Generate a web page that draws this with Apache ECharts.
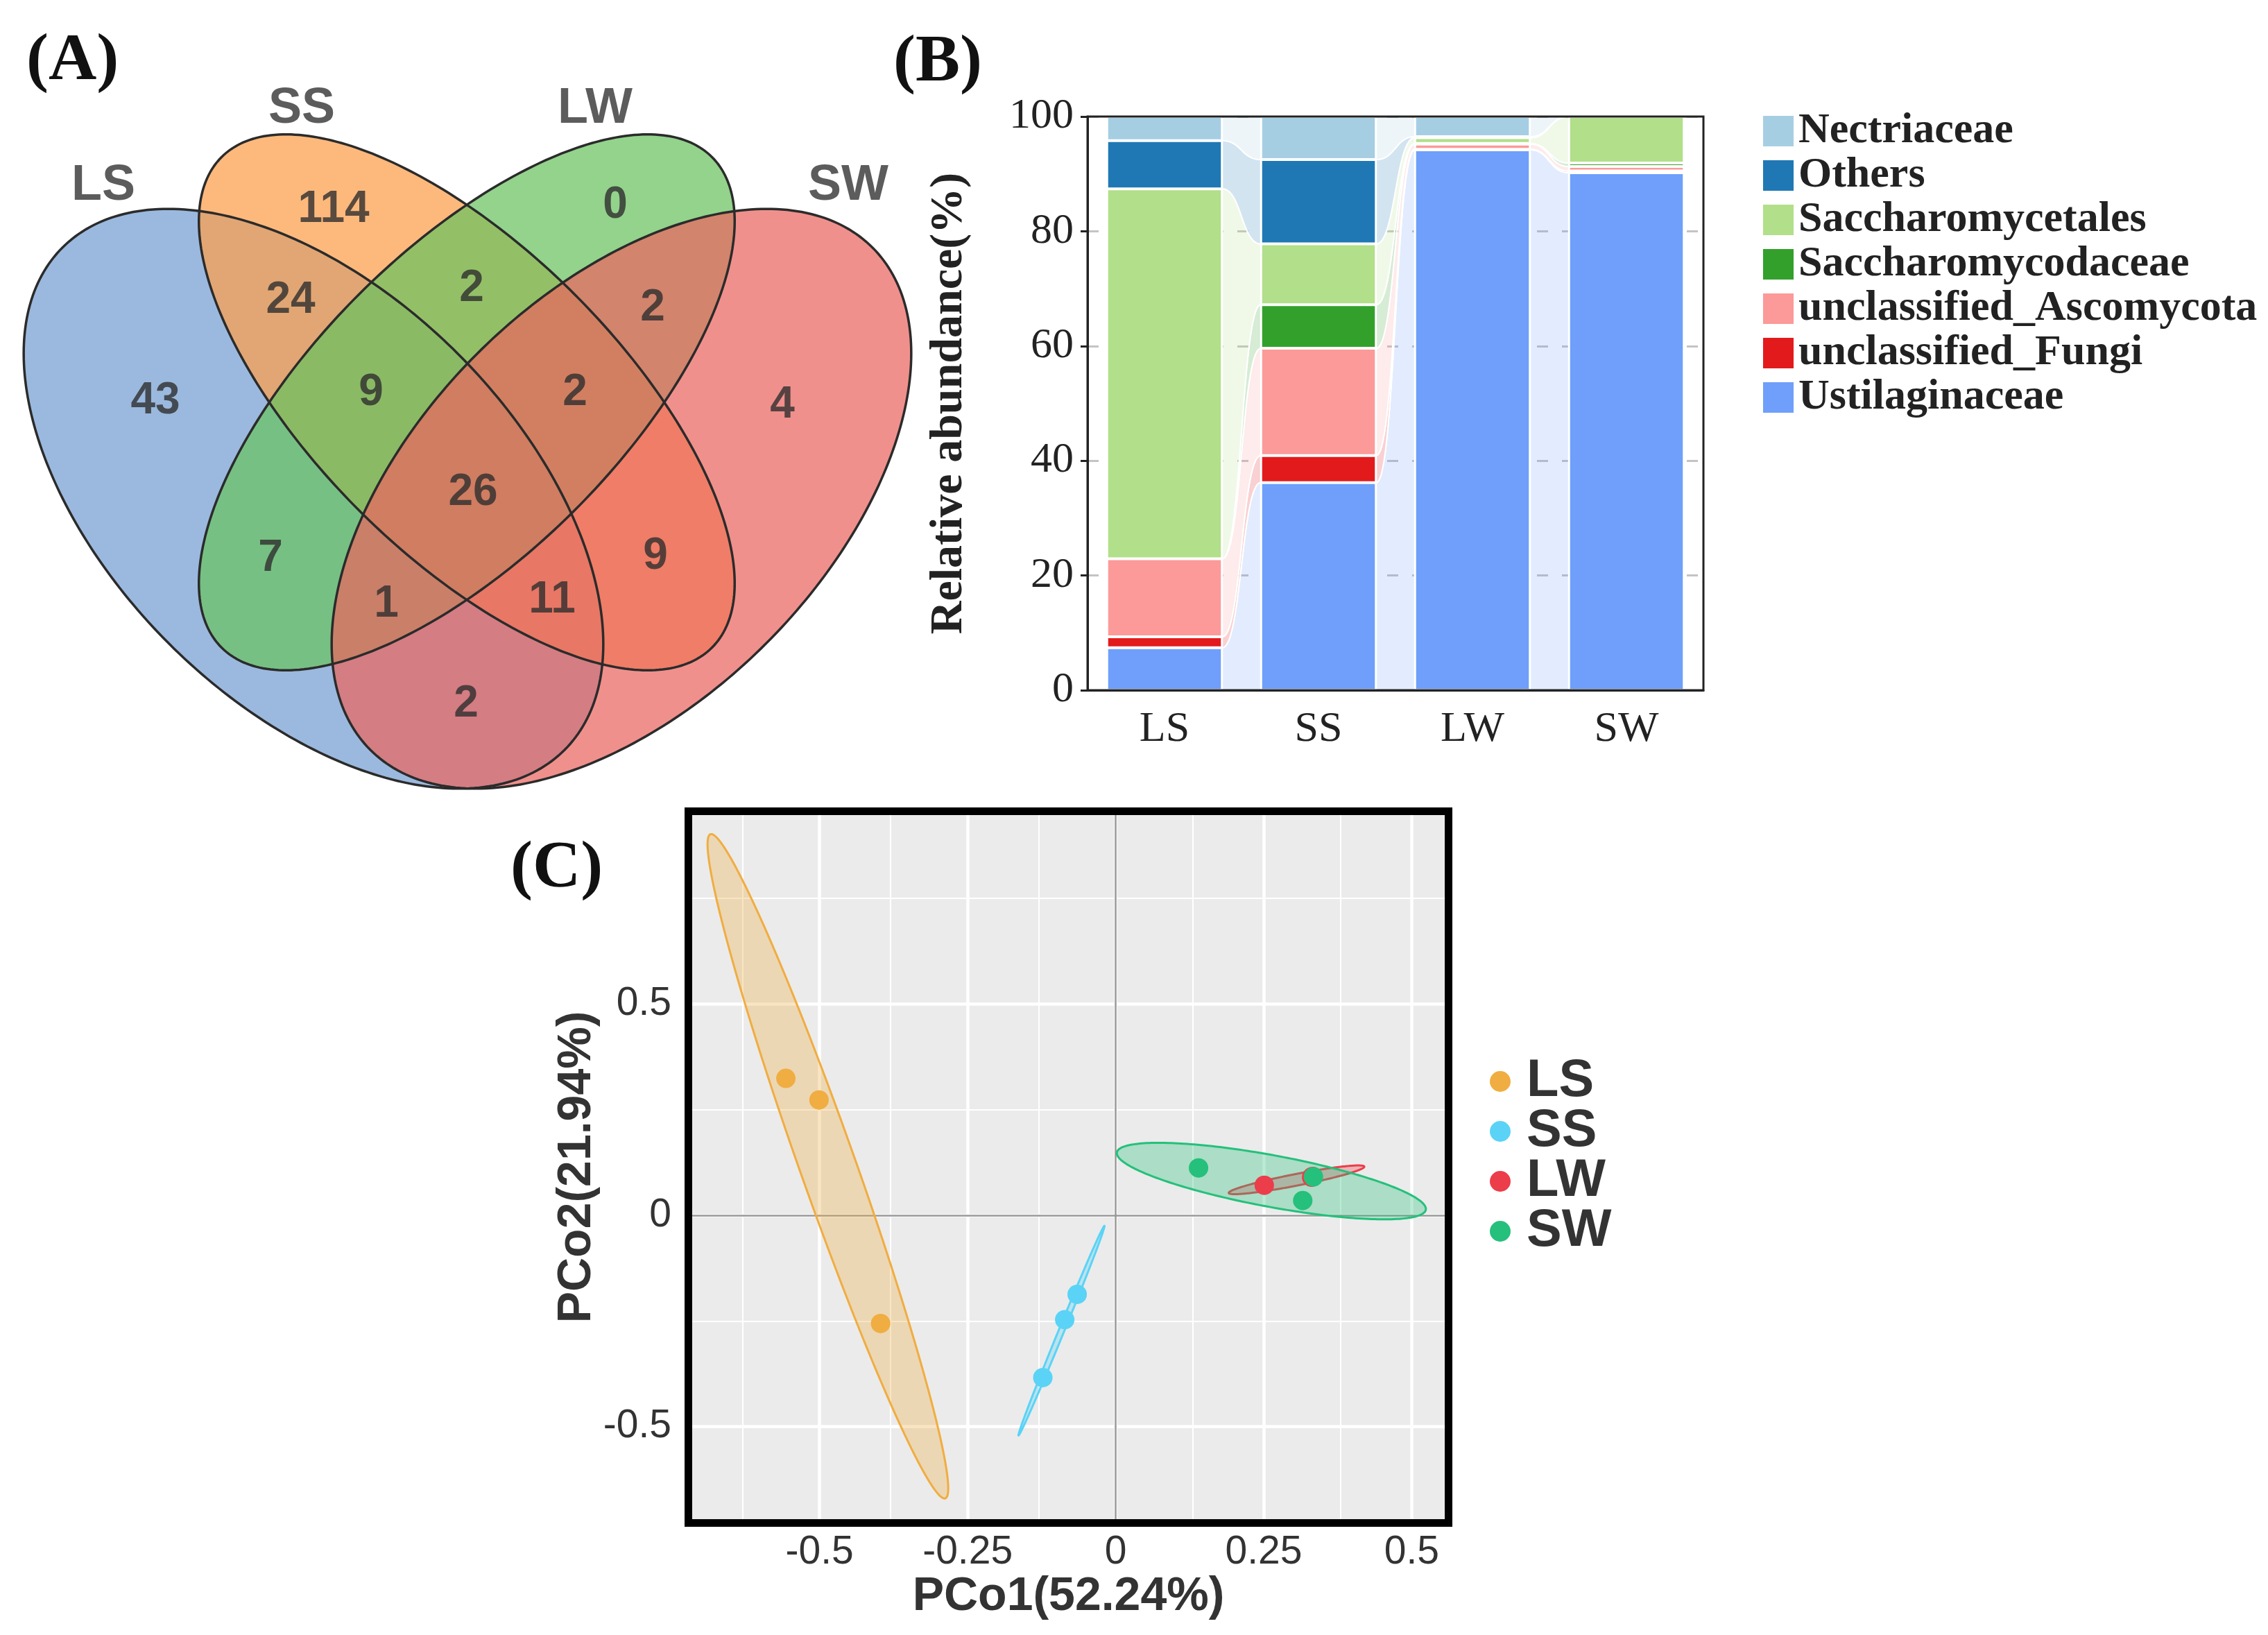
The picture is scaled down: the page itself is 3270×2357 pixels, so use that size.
<!DOCTYPE html>
<html><head><meta charset="utf-8">
<script src="https://cdn.jsdelivr.net/npm/echarts@6/dist/echarts.min.js"></script>
<style>html,body{margin:0;padding:0;background:#fff}#c{width:3270px;height:2357px}</style>
</head><body><div id="c"></div>
<script>
// ---------------- Panel A : Venn ----------------
const vennSets = ['LS', 'SS', 'LW', 'SW'];
const vennColors = ['#749ed1', '#fc9e4a', '#6ac25f', '#ea655f'];
// ellipse: centre x, centre y, semi-major, semi-minor, rotation (deg) in venn units
const vennEllipseCx = [0.452, 0.673, 0.673, 0.896];
const vennEllipseCy = [0.451, 0.590, 0.590, 0.451];
const vennEllipseA = [0.512, 0.5, 0.5, 0.512];
const vennEllipseB = [0.295, 0.22, 0.22, 0.295];
const vennEllipseRot = [-45, -45, 45, 45];
const vennSetLabelX = [0.149, 0.435, 0.858, 1.223];
const vennSetLabelY = [0.902, 1.013, 1.013, 0.902];
const vennCounts = [43, 114, 0, 4, 24, 2, 2, 2, 7, 9, 9, 2, 1, 11, 26];
const vennRegionX = [0.224, 0.481, 0.887, 1.128, 0.419, 0.680, 0.941, 0.672, 0.390, 0.945, 0.535, 0.829, 0.557, 0.796, 0.682];
const vennRegionY = [0.592, 0.868, 0.874, 0.586, 0.737, 0.754, 0.726, 0.155, 0.365, 0.368, 0.604, 0.604, 0.299, 0.305, 0.460];

// ---------------- Panel B : stacked bars ----------------
const barCategories = ['LS', 'SS', 'LW', 'SW'];
const taxaNames = ['Ustilaginaceae', 'unclassified_Fungi', 'unclassified_Ascomycota', 'Saccharomycodaceae', 'Saccharomycetales', 'Others', 'Nectriaceae'];
const taxaColors = ['#6f9ffa', '#e31a1c', '#fb9a99', '#33a02c', '#b2df8a', '#1f78b4', '#a6cee3'];
const ustilaginaceae = [7.4, 36.2, 94.2, 90.2];
const unclassifiedFungi = [1.9, 4.7, 0.1, 0.3];
const unclassifiedAscomycota = [13.6, 18.7, 0.9, 0.8];
const saccharomycodaceae = [0, 7.6, 0.1, 0.6];
const saccharomycetales = [64.5, 10.6, 1.0, 8.1];
const others = [8.4, 14.7, 0.2, 0];
const nectriaceae = [4.2, 7.5, 3.5, 0];
const stackValues = [ustilaginaceae, unclassifiedFungi, unclassifiedAscomycota, saccharomycodaceae, saccharomycetales, others, nectriaceae];
const legendOrderB = ['Nectriaceae', 'Others', 'Saccharomycetales', 'Saccharomycodaceae', 'unclassified_Ascomycota', 'unclassified_Fungi', 'Ustilaginaceae'];

// ---------------- Panel C : PCoA ----------------
const pcoaGroups = ['LS', 'SS', 'LW', 'SW'];
const pcoaColors = ['#f0ad41', '#5ad3f6', '#ec3d4a', '#25c07b'];
const lsPoints = [[-0.557, 0.324], [-0.501, 0.273], [-0.397, -0.256]];
const ssPoints = [[-0.065, -0.187], [-0.086, -0.247], [-0.123, -0.384]];
const lwPoints = [[0.251, 0.071], [0.333, 0.092], [0.331, 0.090]];
const swPoints = [[0.140, 0.112], [0.316, 0.035], [0.334, 0.091]];
// ellipse: centre, conjugate semi-axis vectors u and v (data units)
const lsEllipse = [-0.486, 0.116, -0.197, 0.786, 0.05, 0];
const ssEllipse = [-0.0915, -0.273, 0.0725, 0.248, 0.005, 0];
const lwEllipse = [0.3055, 0.084, 0.1145, 0.031, 0, 0.014];
const swEllipse = [0.263, 0.081, 0.261, -0.066, 0, 0.062];
const xMajor = [-0.5, -0.25, 0, 0.25, 0.5];
const xMinor = [-0.625, -0.375, -0.125, 0.125, 0.375];
const yMajor = [-0.5, 0, 0.5];
const yMinor = [-0.25, 0.25, 0.75];

const chart = echarts.init(document.getElementById('c'), null, {renderer: 'canvas'});
const alpha = echarts.color.modifyAlpha;

function conjEllipse(api, e, n) {
  const pts = [];
  for (let k = 0; k < n; k++) {
    const t = 2 * Math.PI * k / n;
    pts.push(api.coord([e[0] + e[2] * Math.cos(t) + e[4] * Math.sin(t), e[1] + e[3] * Math.cos(t) + e[5] * Math.sin(t)]));
  }
  return pts;
}
function vennEllipse(api, k) {
  const r = vennEllipseRot[k] * Math.PI / 180;
  const a = vennEllipseA[k], b = vennEllipseB[k];
  return conjEllipse(api, [vennEllipseCx[k], vennEllipseCy[k], a * Math.cos(r), a * Math.sin(r), -b * Math.sin(r), b * Math.cos(r)], 300);
}

function cumBase(s, i) { let c = 0; for (let k = 0; k < s; k++) c += stackValues[k][i]; return c; }
function bez(a, b, m, t) { const u = 1 - t; return u * u * u * a + 3 * u * u * t * m + 3 * u * t * t * m + t * t * t * b; }
function bezY(a, b, t) { const u = 1 - t; return a * (u * u * u + 3 * u * u * t) + b * (3 * u * t * t + t * t * t); }

const flowData = [];
for (let i = 0; i < barCategories.length - 1; i++) for (let s = 0; s < stackValues.length; s++) flowData.push([i, s]);

const series = [];
// Venn fills
series.push({
  type: 'custom', name: 'vennFill', xAxisIndex: 0, yAxisIndex: 0, silent: true,
  data: vennSets.map((n, k) => [vennEllipseCx[k], vennEllipseCy[k], k]),
  renderItem: function (params, api) {
    const k = api.value(2);
    return {type: 'polygon', shape: {points: vennEllipse(api, k)}, style: {fill: alpha(vennColors[k], 0.72), stroke: 'none'}};
  }
});
series.push({
  type: 'custom', name: 'vennLine', xAxisIndex: 0, yAxisIndex: 0, silent: true, z: 3,
  data: vennSets.map((n, k) => [vennEllipseCx[k], vennEllipseCy[k], k]),
  renderItem: function (params, api) {
    const k = api.value(2);
    return {type: 'polygon', shape: {points: vennEllipse(api, k)}, style: {fill: 'none', stroke: '#2b2b2b', lineWidth: 3.5}};
  }
});
series.push({
  type: 'scatter', name: 'vennCounts', xAxisIndex: 0, yAxisIndex: 0, symbolSize: 0, silent: true, z: 4,
  data: vennCounts.map((c, k) => [vennRegionX[k], vennRegionY[k], c]),
  label: {show: true, position: 'inside', formatter: p => String(p.value[2]), fontFamily: 'Liberation Sans', fontWeight: 'bold', fontSize: 64, color: '#2e2e2e'}
});
series.push({
  type: 'scatter', name: 'vennSets', xAxisIndex: 0, yAxisIndex: 0, symbolSize: 0, silent: true, z: 4,
  data: vennSets.map((n, k) => ({name: n, value: [vennSetLabelX[k], vennSetLabelY[k]]})),
  label: {show: true, position: 'inside', formatter: '{b}', fontFamily: 'Liberation Sans', fontWeight: 'bold', fontSize: 72, color: '#333'}
});

// Panel B flows
series.push({
  type: 'custom', name: 'flows', xAxisIndex: 1, yAxisIndex: 1, silent: true, z: 2,
  data: flowData,
  renderItem: function (params, api) {
    const i = api.value(0), s = api.value(1);
    const half = api.size([1, 0])[0] * 0.375;
    const b0 = cumBase(s, i), t0 = b0 + stackValues[s][i];
    const b1 = cumBase(s, i + 1), t1 = b1 + stackValues[s][i + 1];
    const xa = api.coord([i, 0])[0] + half, xb = api.coord([i + 1, 0])[0] - half, xm = (xa + xb) / 2;
    const yb0 = api.coord([i, b0])[1], yt0 = api.coord([i, t0])[1];
    const yb1 = api.coord([i + 1, b1])[1], yt1 = api.coord([i + 1, t1])[1];
    const pts = [];
    const N = 40;
    for (let k = 0; k <= N; k++) { const t = k / N; pts.push([bez(xa, xb, xm, t), bezY(yt0, yt1, t)]); }
    for (let k = N; k >= 0; k--) { const t = k / N; pts.push([bez(xa, xb, xm, t), bezY(yb0, yb1, t)]); }
    return {type: 'polygon', shape: {points: pts}, style: {fill: alpha(taxaColors[s], 0.2), stroke: '#fff', lineWidth: 2}};
  }
});
// Panel B bars
stackValues.forEach((vals, s) => {
  series.push({
    type: 'bar', name: taxaNames[s], xAxisIndex: 1, yAxisIndex: 1, stack: 'abund', barWidth: '75%', z: 3,
    data: vals, itemStyle: {color: taxaColors[s], borderColor: '#fff', borderWidth: 2}
  });
});

// Panel C gridlines
const gl = [];
xMinor.forEach(v => gl.push({xAxis: v, lineStyle: {color: '#fff', width: 2, type: 'solid'}}));
yMinor.forEach(v => gl.push({yAxis: v, lineStyle: {color: '#fff', width: 2, type: 'solid'}}));
xMajor.forEach(v => gl.push({xAxis: v, lineStyle: {color: '#fff', width: 4.5, type: 'solid'}}));
yMajor.forEach(v => gl.push({yAxis: v, lineStyle: {color: '#fff', width: 4.5, type: 'solid'}}));
series.push({
  type: 'scatter', name: 'grid', xAxisIndex: 2, yAxisIndex: 2, data: [], silent: true, z: 1,
  markLine: {silent: true, symbol: 'none', label: {show: false}, animation: false, z: 1, data: gl}
});
series.push({
  type: 'scatter', name: 'zero', xAxisIndex: 2, yAxisIndex: 2, data: [], silent: true, z: 2,
  markLine: {silent: true, symbol: 'none', label: {show: false}, animation: false, z: 2,
    data: [{xAxis: 0, lineStyle: {color: '#999', width: 2.5, type: 'solid'}}, {yAxis: 0, lineStyle: {color: '#999', width: 2.5, type: 'solid'}}]}
});
const ellipses = [lsEllipse, ssEllipse, lwEllipse, swEllipse];
const groupPoints = [lsPoints, ssPoints, lwPoints, swPoints];
ellipses.forEach((e, g) => {
  series.push({
    type: 'custom', name: pcoaGroups[g] + ' ellipse', xAxisIndex: 2, yAxisIndex: 2, silent: true, z: 3,
    data: [[e[0], e[1]]],
    renderItem: function (params, api) {
      return {type: 'polygon', shape: {points: conjEllipse(api, e, 240)}, style: {fill: alpha(pcoaColors[g], 0.32), stroke: pcoaColors[g], lineWidth: 3}};
    }
  });
});
groupPoints.forEach((pts, g) => {
  series.push({
    type: 'scatter', name: pcoaGroups[g], xAxisIndex: 2, yAxisIndex: 2, z: 5,
    symbol: 'circle', symbolSize: 28, data: pts, itemStyle: {color: pcoaColors[g], opacity: 1}
  });
});

const serif = 'Liberation Serif';
const sans = 'Liberation Sans';
const option = {
  backgroundColor: '#fff',
  animation: false,
  title: [
    {text: '(A)', left: 33, top: 36, textStyle: {fontFamily: serif, fontWeight: 'bold', fontSize: 96, color: '#111'}},
    {text: '(B)', left: 1283, top: 38, textStyle: {fontFamily: serif, fontWeight: 'bold', fontSize: 96, color: '#111'}},
    {text: '(C)', left: 731, top: 1200, textStyle: {fontFamily: serif, fontWeight: 'bold', fontSize: 96, color: '#111'}}
  ],
  grid: [
    {left: 0, top: 0, width: 1350, height: 1170, show: false},
    {left: 1568, top: 168, width: 888, height: 827, show: false},
    {left: 998, top: 1175, width: 1085, height: 1015, show: true, backgroundColor: '#ebebeb', borderWidth: 0},
    {left: 992.5, top: 1169.5, width: 1096, height: 1026, show: true, backgroundColor: 'transparent', borderColor: '#000', borderWidth: 11, z: 20},
    {left: 1568, top: 168, width: 888, height: 827, show: true, backgroundColor: 'transparent', borderColor: '#222', borderWidth: 3, z: 20}
  ],
  xAxis: [
    {gridIndex: 0, type: 'value', min: 0, max: 1.35, show: false},
    {gridIndex: 1, type: 'category', data: barCategories, boundaryGap: true,
      axisLine: {lineStyle: {color: '#222', width: 3}},
      axisTick: {alignWithLabel: true, length: 14, lineStyle: {color: '#222', width: 3}},
      axisLabel: {fontFamily: serif, fontSize: 62, color: '#222', margin: 26},
      splitLine: {show: false}},
    {gridIndex: 2, type: 'value', min: -0.7152, max: 0.5558,
      axisLine: {show: false},
      axisTick: {show: true, length: 18, customValues: xMajor, lineStyle: {color: '#333', width: 3}},
      axisLabel: {show: true, customValues: xMajor, fontFamily: sans, fontSize: 57, color: '#333', margin: 20},
      splitLine: {show: false},
      name: 'PCo1(52.24%)', nameLocation: 'middle', nameGap: 68,
      nameTextStyle: {fontFamily: sans, fontWeight: 'bold', fontSize: 68, color: '#333'}}
  ],
  yAxis: [
    {gridIndex: 0, type: 'value', min: 0, max: 1.17, show: false},
    {gridIndex: 1, type: 'value', min: 0, max: 100, interval: 20,
      axisLine: {show: true, lineStyle: {color: '#222', width: 3}},
      axisTick: {show: true, length: 10, lineStyle: {color: '#222', width: 3}},
      axisLabel: {fontFamily: serif, fontSize: 62, color: '#222', margin: 20},
      splitLine: {show: true, lineStyle: {color: '#c4c4c4', width: 3, type: [16, 20]}},
      name: 'Relative abundance(%)', nameLocation: 'middle', nameRotate: 90, nameGap: 166,
      nameTextStyle: {fontFamily: serif, fontWeight: 'bold', fontSize: 66, color: '#222'}},
    {gridIndex: 2, type: 'value', min: -0.719, max: 0.947,
      axisLine: {show: false},
      axisTick: {show: true, length: 18, customValues: yMajor, lineStyle: {color: '#333', width: 3}},
      axisLabel: {show: true, customValues: yMajor, fontFamily: sans, fontSize: 57, color: '#333', margin: 30},
      splitLine: {show: false},
      name: 'PCo2(21.94%)', nameLocation: 'middle', nameRotate: 90, nameGap: 112,
      nameTextStyle: {fontFamily: sans, fontWeight: 'bold', fontSize: 68, color: '#333'}}
  ],
  legend: [
    {data: legendOrderB, orient: 'vertical', left: 2537, top: 153, icon: 'rect', itemWidth: 44, itemHeight: 44, itemGap: 2,
      itemStyle: {borderWidth: 0},
      textStyle: {fontFamily: serif, fontWeight: 'bold', fontSize: 62, color: '#222', padding: [0, 0, 0, 2]}},
    {data: pcoaGroups, orient: 'vertical', left: 2143, top: 1516, icon: 'circle', itemWidth: 30, itemHeight: 30, itemGap: -4,
      textStyle: {fontFamily: sans, fontWeight: 'bold', fontSize: 76, color: '#333', padding: [0, 0, 0, 18]}}
  ],
  series: series
};
chart.setOption(option);
</script>
</body></html>
